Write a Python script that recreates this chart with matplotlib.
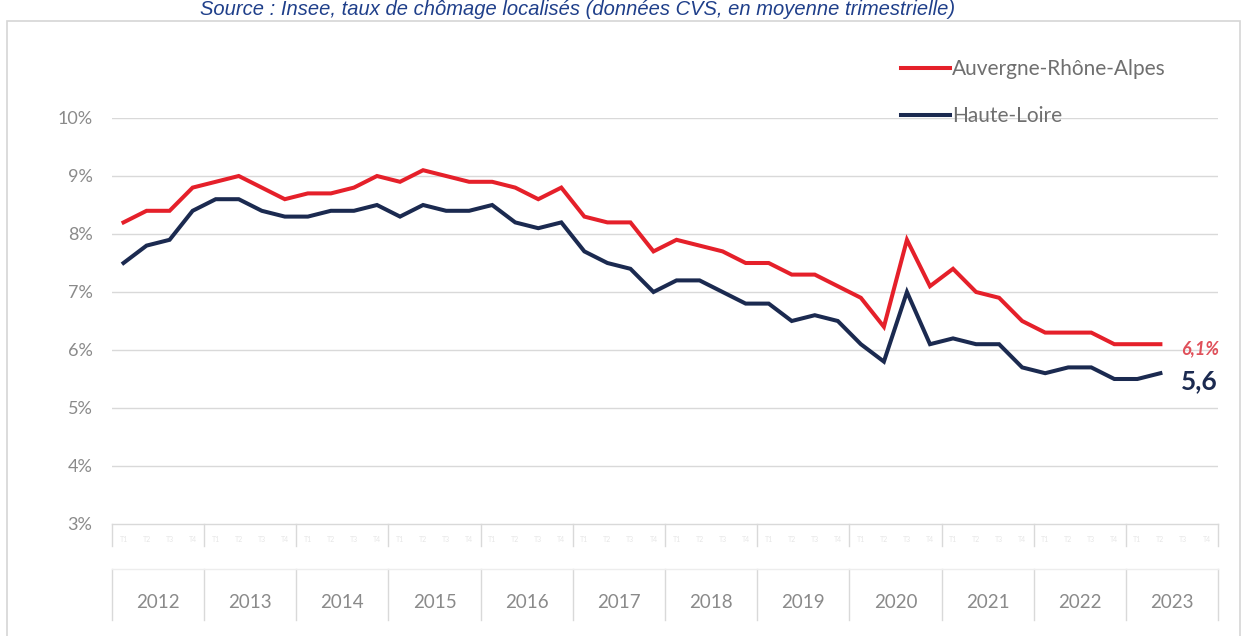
import matplotlib
matplotlib.use("Agg")
import matplotlib.pyplot as plt
from matplotlib.patches import Rectangle

plt.rcParams['font.family'] = ['Lato', 'DejaVu Sans']

years = ['2012', '2013', '2014', '2015', '2016', '2017', '2018', '2019',
         '2020', '2021', '2022', '2023']
quarter_labels = ['T1', 'T2', 'T3', 'T4']

ara = [8.2, 8.4, 8.4, 8.8,
       8.9, 9.0, 8.8, 8.6,
       8.7, 8.7, 8.8, 9.0,
       8.9, 9.1, 9.0, 8.9,
       8.9, 8.8, 8.6, 8.8,
       8.3, 8.2, 8.2, 7.7,
       7.9, 7.8, 7.7, 7.5,
       7.5, 7.3, 7.3, 7.1,
       6.9, 6.4, 7.9, 7.1,
       7.4, 7.0, 6.9, 6.5,
       6.3, 6.3, 6.3, 6.1,
       6.1, 6.1]
hl = [7.5, 7.8, 7.9, 8.4,
      8.6, 8.6, 8.4, 8.3,
      8.3, 8.4, 8.4, 8.5,
      8.3, 8.5, 8.4, 8.4,
      8.5, 8.2, 8.1, 8.2,
      7.7, 7.5, 7.4, 7.0,
      7.2, 7.2, 7.0, 6.8,
      6.8, 6.5, 6.6, 6.5,
      6.1, 5.8, 7.0, 6.1,
      6.2, 6.1, 6.1, 5.7,
      5.6, 5.7, 5.7, 5.5,
      5.5, 5.6]
yticks = [3, 4, 5, 6, 7, 8, 9, 10]
series_names = ['Auvergne-Rhône-Alpes', 'Haute-Loire']
end_labels = ['6,1%', '5,6']
title = "Source : Insee, taux de chômage localisés (données CVS, en moyenne trimestrielle)"

RED = '#E5202A'
NAVY = '#1B2A50'
GRID = '#D9D9D9'
TXT = '#8A8A8A'

W, H = 1250, 636
fig = plt.figure(figsize=(W / 100, H / 100), dpi=100)
fig.patch.set_facecolor('white')

# outer frame
fig.patches.append(Rectangle((7 / W, -0.05), (1240 - 7) / W, 1 - 21 / H + 0.05,
                             transform=fig.transFigure, fill=False,
                             edgecolor='#D6D6D6', linewidth=1.2))

fig.text(578 / W, 1 - 15 / H, title, ha='center', va='baseline',
         fontsize=14.5, style='italic', color='#1F3F8A',
         family=['Liberation Sans', 'DejaVu Sans'])

left, right, bottom, top = 112, 1218, 524, 118
ax = fig.add_axes([left / W, 1 - bottom / H, (right - left) / W, (bottom - top) / H])
ax.set_facecolor('none')

n_cat = 4 * len(years)
x = list(range(len(ara)))
l1, = ax.plot(x, ara, color=RED, lw=2.9, solid_joinstyle='miter', label=series_names[0], zorder=3)
l2, = ax.plot(x, hl, color=NAVY, lw=2.9, solid_joinstyle='miter', label=series_names[1], zorder=3)

ax.set_xlim(-0.5, n_cat - 0.5)
ax.set_ylim(3, 10)
ax.set_yticks(yticks)
ax.set_yticklabels([f'{v}%' for v in yticks], color=TXT, fontsize=13)
ax.tick_params(axis='y', length=0, pad=14)
ax.set_xticks([])
for s in ['top', 'right', 'left']:
    ax.spines[s].set_visible(False)
ax.spines['bottom'].set_color(GRID)
ax.spines['bottom'].set_linewidth(1)
for v in yticks[1:]:
    ax.axhline(v, color=GRID, lw=1, zorder=1)

# category axis (multi-level)
trans = ax.get_xaxis_transform()
ah = bottom - top
def ay(py):
    return -(py - bottom) / ah
for k in range(len(years) + 1):
    xs = 4 * k - 0.5
    ax.plot([xs, xs], [ay(524), ay(546)], color=GRID, lw=1, transform=trans, clip_on=False)
    ax.plot([xs, xs], [ay(569), ay(620)], color=GRID, lw=1, transform=trans, clip_on=False)
ax.plot([-0.5, n_cat - 0.5], [ay(569), ay(569)], color='#EDEDED', lw=1, transform=trans, clip_on=False)
for k, yr in enumerate(years):
    ax.text(4 * k + 1.5, ay(602), yr, transform=trans, ha='center', va='center',
            fontsize=13.5, color=TXT)
    for q in range(4):
        ax.text(4 * k + q, ay(539), quarter_labels[q], transform=trans, ha='center',
                va='center', fontsize=5, color='#E6E6E6')

# end labels
ax.annotate(end_labels[0], xy=(x[-1], ara[-1]), xytext=(15, -3), textcoords='offset points',
            ha='left', va='center', color='#E0505A', fontsize=13, style='italic',
            fontweight='bold')
ax.annotate(end_labels[1], xy=(x[-1], hl[-1]), xytext=(15, -6), textcoords='offset points',
            ha='left', va='center', color=NAVY, fontsize=19, fontweight='bold')

leg = ax.legend(handles=[l1, l2], loc='upper left',
                bbox_to_anchor=(901 / W, 1 - 59 / H), bbox_transform=fig.transFigure,
                frameon=False, fontsize=15, handlelength=2.35, handletextpad=0.1,
                labelspacing=1.3, borderpad=0, borderaxespad=0)
for t in leg.get_texts():
    t.set_color('#6F6F6F')

fig.savefig('out.png', dpi=100, facecolor='white')
